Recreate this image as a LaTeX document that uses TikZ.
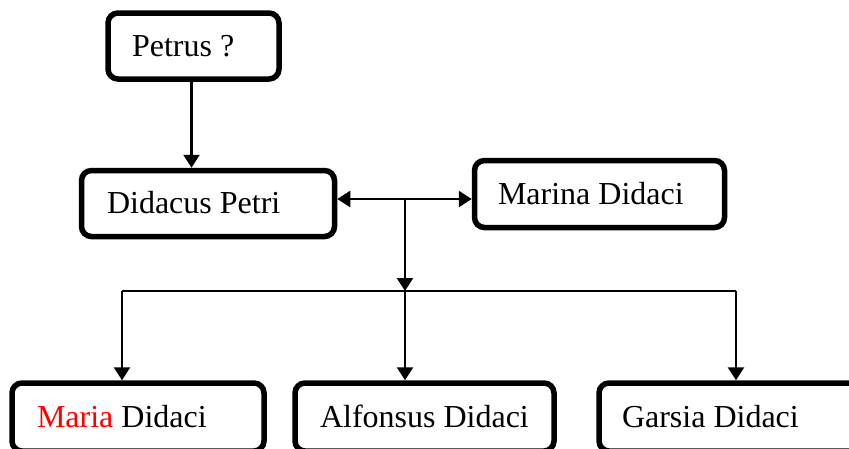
\documentclass[tikz,border=0pt]{standalone}
\usepackage{fontspec}
\setmainfont{Liberation Serif}
\usetikzlibrary{arrows.meta}
\begin{document}
\begin{tikzpicture}[x=1pt,y=-1pt,
  box/.style={draw, line width=5.5pt, rounded corners=10pt,
    font=\fontsize{32}{38}\selectfont, text height=22pt, text depth=2pt,
    inner ysep=0pt},
  conn/.style={line width=2.4pt, -{Triangle[length=13pt,width=16pt]}},
  dconn/.style={line width=2.4pt, {Triangle[length=13pt,width=16pt]}-{Triangle[length=13pt,width=16pt]}},
  barline/.style={line width=1.6pt}]
\useasboundingbox (0,0) rectangle (849,448);
\clip (0,0) rectangle (849,448);
\node[box, minimum width=171pt, minimum height=66pt, inner xsep=24pt] (petrus) at (193.5,46) {\makebox[123pt][l]{Petrus ?}};
\node[box, minimum width=253pt, minimum height=66pt, inner xsep=25.5pt] (didacus) at (208,203.5) {\makebox[202pt][l]{Didacus Petri}};
\node[box, minimum width=250pt, minimum height=67pt, inner xsep=23.5pt] (marina) at (599.5,194) {\makebox[203pt][l]{Marina Didaci}};
\node[box, minimum width=252pt, minimum height=68pt, inner xsep=25pt] (maria) at (138,417) {\makebox[202pt][l]{{\color{red}Maria} Didaci}};
\node[box, minimum width=259pt, minimum height=68pt, inner xsep=25pt] (alfonsus) at (424.5,417) {\makebox[209pt][l]{Alfonsus Didaci}};
\node[box, minimum width=266pt, minimum height=68pt, inner xsep=23pt] (garsia) at (732,417) {\makebox[220pt][l]{Garsia Didaci}};
\coordinate (j1) at (405,199);
\coordinate (j2) at (405,291);
\coordinate (bl) at (122,291);
\coordinate (br) at (736,291);
\draw[conn] ([xshift=-2pt]petrus.south) -- ([xshift=-2pt]petrus.south |- didacus.north);
\draw[dconn] (didacus.east |- j1) -- (marina.west |- j1);
\draw[conn] (j1) -- (j2);
\draw[barline] (bl) -- (br);
\draw[conn] (bl) -- (bl |- maria.north);
\draw[conn] (j2) -- (j2 |- alfonsus.north);
\draw[conn] (br) -- (br |- garsia.north);
\end{tikzpicture}
\end{document}
